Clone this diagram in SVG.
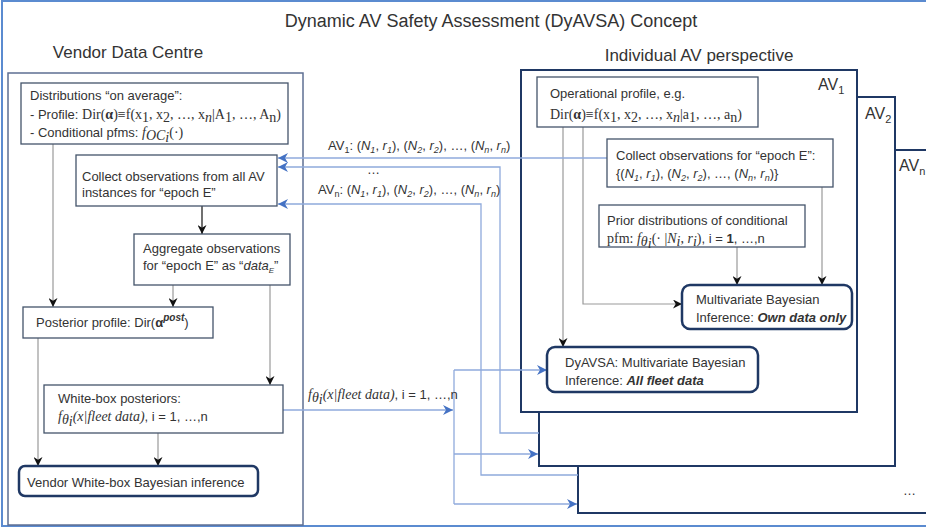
<svg xmlns="http://www.w3.org/2000/svg" width="926" height="529" viewBox="0 0 926 529">
<defs>
<marker id="ab" viewBox="0 0 10 10" refX="10" refY="5" markerWidth="9" markerHeight="9" markerUnits="userSpaceOnUse" orient="auto"><path d="M0,0 L10,5 L0,10 L3,5 z" fill="#111"/></marker>
<marker id="au" viewBox="0 0 10 10" refX="10" refY="5" markerWidth="10" markerHeight="10" markerUnits="userSpaceOnUse" orient="auto"><path d="M0,0 L10,5 L0,10 L3,5 z" fill="#4472C4"/></marker>
</defs>
<style>
text{font-family:"Liberation Sans",Arial,sans-serif;font-size:13px;fill:#333}
.m{font-family:"Liberation Serif","Times New Roman",serif;font-size:14px}
.i{font-style:italic}
.b{font-weight:bold}
.t{font-size:18px}
.h{font-size:17px}
.av{font-size:16px}
.box{fill:#fff;stroke:#44546A;stroke-width:1.3}
.rbox{fill:#fff;stroke:#1F3864;stroke-width:2.5}
.avbox{fill:#fff;stroke:#1F3864;stroke-width:2}
.g{fill:none;stroke:#999;stroke-width:1.2;marker-end:url(#ab)}
.k{fill:none;stroke:#111;stroke-width:1.2;marker-end:url(#ab)}
.u{fill:none;stroke:#8FAADC;stroke-width:1.3}
.ua{fill:none;stroke:#8FAADC;stroke-width:1.3;marker-end:url(#au)}
</style>
<rect width="926" height="529" fill="#fff"/>
<rect id="frame" x="2" y="1" width="940" height="525" fill="none" stroke="#5B8BD0" stroke-width="2"/>
<text class="t" x="491" y="27" text-anchor="middle">Dynamic AV Safety Assessment (DyAVSA) Concept</text>
<text class="h" x="128" y="58" text-anchor="middle">Vendor Data Centre</text>
<text class="h" x="699" y="61" text-anchor="middle">Individual AV perspective</text>

<g id="vendor-centre"><rect x="8" y="73" width="295" height="452" fill="none" stroke="#5E6F93" stroke-width="1.5"/></g>

<g id="av-n"><rect class="avbox" x="578" y="150" width="370" height="363"/><text class="av" x="899" y="171">AV<tspan font-size="11" dy="4">n</tspan></text><text x="903" y="495">…</text></g>
<g id="av-2"><rect class="avbox" x="539" y="97" width="356" height="369"/><text class="av" x="865" y="119">AV<tspan font-size="11" dy="4">2</tspan></text></g>
<g id="av-1"><rect class="avbox" x="521" y="70" width="336" height="342"/><text class="av" x="818" y="90">AV<tspan font-size="11" dy="4">1</tspan></text></g>

<g id="connectors">
<path class="g" d="M53,144 V307"/>
<path class="k" d="M202,206 V234"/>
<path class="g" d="M173,285 V307"/>
<path class="g" d="M270,285 V385"/>
<path class="g" d="M38,338 V466"/>
<path class="g" d="M158,433 V466"/>
<path class="g" d="M563,127 V347"/>
<path class="g" d="M583,127 V304 H682"/>
<path class="g" d="M822,187 V285"/>
<path class="g" d="M737,247 V285"/>
<path class="ua" d="M607,158 H278"/>
<path class="ua" d="M539,433 H500 V167 H278"/>
<path class="ua" d="M578,475 H481 V204 H278"/>
<path class="ua" d="M283,410 H453"/>
<path class="u" d="M454,370 V504"/>
<path class="ua" d="M454,370 H547"/>
<path class="ua" d="M454,454 H538"/>
<path class="ua" d="M454,504 H577"/>
</g>

<g id="conn-labels">
<text x="328" y="150">AV<tspan font-size="9" dy="3">1</tspan><tspan dy="-3">: (</tspan><tspan class="i">N</tspan><tspan class="i" font-size="9" dy="3">1</tspan><tspan dy="-3">, </tspan><tspan class="i">r</tspan><tspan class="i" font-size="9" dy="3">1</tspan><tspan dy="-3">), (</tspan><tspan class="i">N</tspan><tspan class="i" font-size="9" dy="3">2</tspan><tspan dy="-3">, </tspan><tspan class="i">r</tspan><tspan class="i" font-size="9" dy="3">2</tspan><tspan dy="-3">), …, (</tspan><tspan class="i">N</tspan><tspan class="i" font-size="9" dy="3">n</tspan><tspan dy="-3">, </tspan><tspan class="i">r</tspan><tspan class="i" font-size="9" dy="3">n</tspan><tspan dy="-3">)</tspan></text>
<text x="367" y="174">…</text>
<text x="318" y="194">AV<tspan font-size="9" dy="3">n</tspan><tspan dy="-3">: (</tspan><tspan class="i">N</tspan><tspan class="i" font-size="9" dy="3">1</tspan><tspan dy="-3">, </tspan><tspan class="i">r</tspan><tspan class="i" font-size="9" dy="3">1</tspan><tspan dy="-3">), (</tspan><tspan class="i">N</tspan><tspan class="i" font-size="9" dy="3">2</tspan><tspan dy="-3">, </tspan><tspan class="i">r</tspan><tspan class="i" font-size="9" dy="3">2</tspan><tspan dy="-3">), …, (</tspan><tspan class="i">N</tspan><tspan class="i" font-size="9" dy="3">n</tspan><tspan dy="-3">, </tspan><tspan class="i">r</tspan><tspan class="i" font-size="9" dy="3">n</tspan><tspan dy="-3">)</tspan></text>
<text x="308" y="399"><tspan class="m i">f</tspan><tspan class="m i" font-size="9" dy="3">θ</tspan><tspan class="m i" font-size="7" dy="2">i</tspan><tspan class="m i" dy="-5">(x|fleet data)</tspan>, i = 1, …,n</text>
</g>

<g id="distributions"><rect class="box" x="21" y="83" width="267" height="61"/>
<text x="30" y="100">Distributions “on average”:</text>
<text x="30" y="119">- Profile: <tspan class="m">Dir(</tspan><tspan class="m b">α</tspan><tspan class="m">)≡f(x</tspan><tspan class="m" font-size="10" dy="3">1</tspan><tspan class="m" dy="-3">, x</tspan><tspan class="m" font-size="10" dy="3">2</tspan><tspan class="m" dy="-3">, …, x</tspan><tspan class="m i" font-size="10" dy="3">n</tspan><tspan class="m" dy="-3">|A</tspan><tspan class="m" dy="3">1</tspan><tspan class="m" dy="-3">, …, A</tspan><tspan class="m" dy="3">n</tspan><tspan class="m" dy="-3">)</tspan></text>
<text x="30" y="137">- Conditional pfms: <tspan class="m i">f</tspan><tspan class="m i" font-size="9" dy="3">OC</tspan><tspan class="m i" font-size="7" dy="2">i</tspan><tspan class="m" dy="-5">(·)</tspan></text>
</g>
<g id="collect-all"><rect class="box" x="76" y="155" width="201" height="51"/>
<text x="82" y="181">Collect observations from all AV</text>
<text x="82" y="197">instances for “epoch E”</text></g>
<g id="aggregate"><rect class="box" x="134" y="234" width="156" height="51"/>
<text x="143" y="253">Aggregate observations</text>
<text x="143" y="270">for “epoch E” as “<tspan class="i">data</tspan><tspan class="i" font-size="8" dy="3">E</tspan><tspan dy="-3">”</tspan></text></g>
<g id="posterior"><rect class="box" x="23" y="307" width="190" height="31"/>
<text x="36" y="327">Posterior profile:  Dir(<tspan class="b">α</tspan><tspan class="b i" font-size="10" dy="-6">post</tspan><tspan dy="6">)</tspan></text></g>
<g id="whitebox"><rect class="box" x="44" y="385" width="239" height="48"/>
<text x="58" y="403">White-box posteriors:</text>
<text x="58" y="421"><tspan class="m i">f</tspan><tspan class="m i" font-size="9" dy="3">θ</tspan><tspan class="m i" font-size="7" dy="2">i</tspan><tspan class="m i" dy="-5">(x|fleet data)</tspan>, i = 1, …,n</text></g>
<g id="vendor-inference"><rect class="rbox" x="19" y="466" width="239" height="30" rx="6"/>
<text x="27" y="487">Vendor White-box Bayesian inference</text></g>

<g id="op-profile"><rect class="box" x="537" y="77" width="221" height="50"/>
<text x="550" y="98">Operational profile, e.g.</text>
<text x="550" y="119"><tspan class="m">Dir(</tspan><tspan class="m b">α</tspan><tspan class="m">)≡f(x</tspan><tspan class="m" font-size="10" dy="3">1</tspan><tspan class="m" dy="-3">, x</tspan><tspan class="m" font-size="10" dy="3">2</tspan><tspan class="m" dy="-3">, …, x</tspan><tspan class="m i" font-size="10" dy="3">n</tspan><tspan class="m" dy="-3">|a</tspan><tspan class="m" dy="3">1</tspan><tspan class="m" dy="-3">, …, a</tspan><tspan class="m" dy="3">n</tspan><tspan class="m" dy="-3">)</tspan></text></g>
<g id="collect-obs"><rect class="box" x="607" y="139" width="226" height="48"/>
<text x="616" y="160">Collect observations for “epoch E”:</text>
<text x="616" y="178">{(<tspan class="i">N</tspan><tspan class="i" font-size="9" dy="3">1</tspan><tspan dy="-3">, </tspan><tspan class="i">r</tspan><tspan class="i" font-size="9" dy="3">1</tspan><tspan dy="-3">), (</tspan><tspan class="i">N</tspan><tspan class="i" font-size="9" dy="3">2</tspan><tspan dy="-3">, </tspan><tspan class="i">r</tspan><tspan class="i" font-size="9" dy="3">2</tspan><tspan dy="-3">), …, (</tspan><tspan class="i">N</tspan><tspan class="i" font-size="9" dy="3">n</tspan><tspan dy="-3">, </tspan><tspan class="i">r</tspan><tspan class="i" font-size="9" dy="3">n</tspan><tspan dy="-3">)}</tspan></text></g>
<g id="prior"><rect class="box" x="599" y="205" width="206" height="42"/>
<text x="607" y="225">Prior distributions of conditional</text>
<text x="607" y="243"><tspan class="m">pfm: </tspan><tspan class="m i">f</tspan><tspan class="m i" font-size="9" dy="3">θ</tspan><tspan class="m i" font-size="7" dy="2">i</tspan><tspan class="m" dy="-5">(· |</tspan><tspan class="m i">N</tspan><tspan class="m i" font-size="9" dy="3">i</tspan><tspan class="m" dy="-3">, </tspan><tspan class="m i">r</tspan><tspan class="m i" font-size="9" dy="3">i</tspan><tspan class="m" dy="-3">)</tspan>, i = <tspan class="b">1</tspan>, …,n</text></g>
<g id="multivariate-own"><rect class="rbox" x="682" y="285" width="170" height="44" rx="8"/>
<text x="696" y="304">Multivariate Bayesian</text>
<text x="696" y="322">Inference: <tspan class="b i">Own data only</tspan></text></g>
<g id="dyavsa"><rect class="rbox" x="547" y="347" width="211" height="45" rx="8"/>
<text x="565" y="367">DyAVSA: Multivariate Bayesian</text>
<text x="565" y="385">Inference: <tspan class="b i">All fleet data</tspan></text></g>
</svg>
